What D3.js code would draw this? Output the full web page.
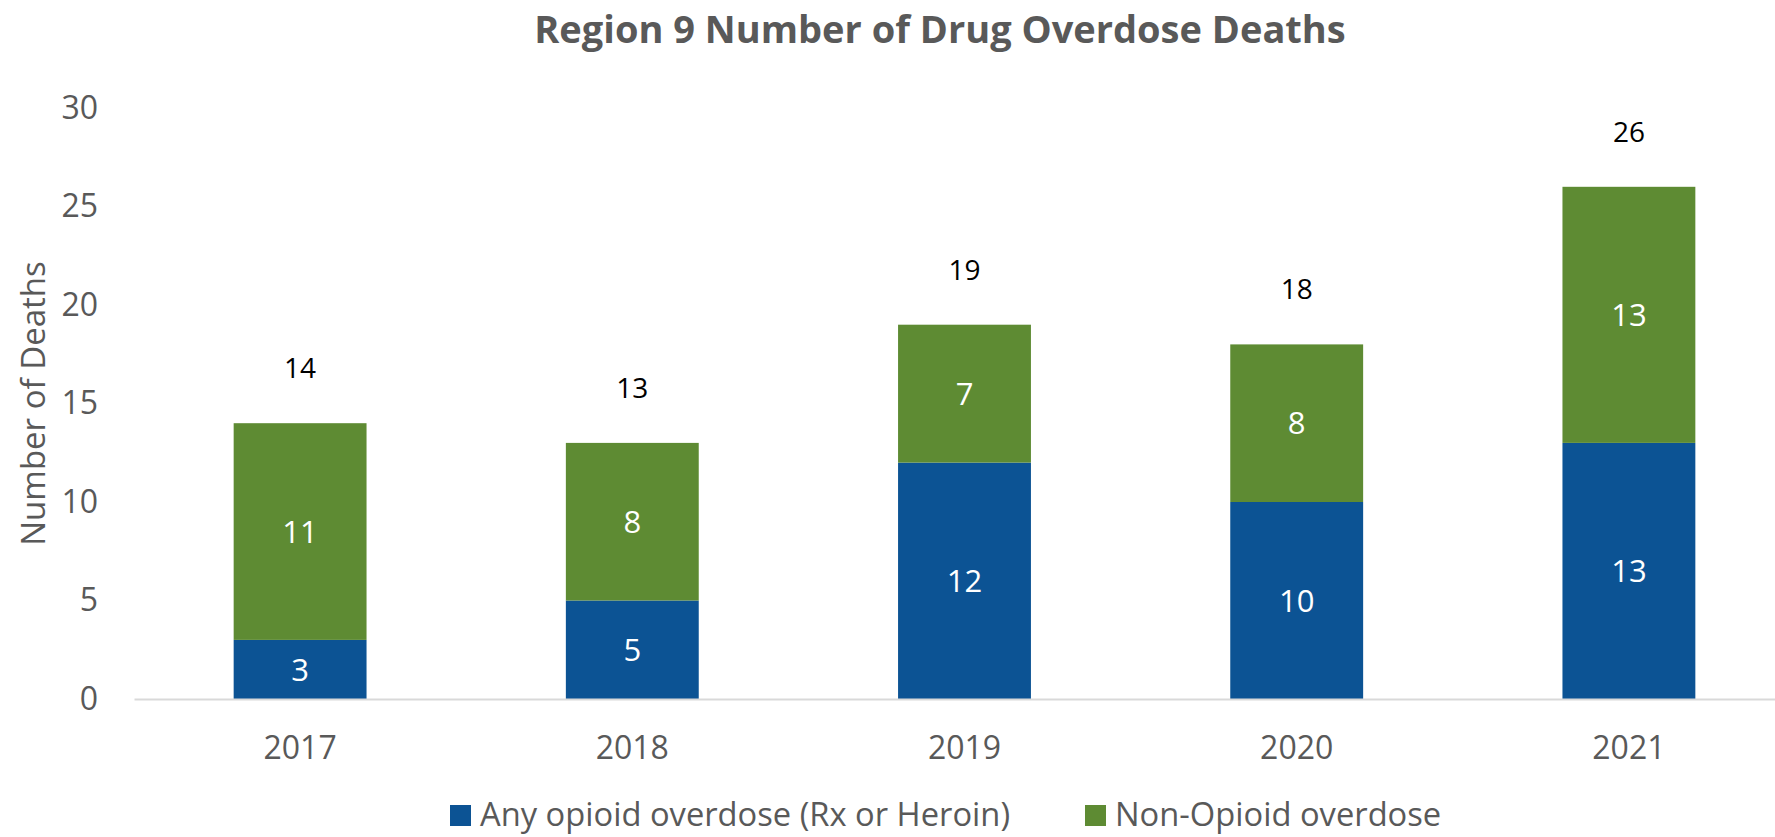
<!DOCTYPE html>
<html>
<head>
<meta charset="utf-8">
<script src="https://cdn.jsdelivr.net/npm/d3@7"></script>
<style>
  html, body { margin: 0; padding: 0; background: #ffffff; }
  svg { display: block; font-family: "Open Sans", "Noto Sans", sans-serif; }
</style>
</head>
<body>
<svg id="chart" width="1775" height="837"></svg>
<script>
// Region 9 drug overdose deaths by year
const years = ["2017", "2018", "2019", "2020", "2021"];
const opioidDeaths = [3, 5, 12, 10, 13];
const nonOpioidDeaths = [11, 8, 7, 8, 13];
const seriesNames = ["Any opioid overdose (Rx or Heroin)", "Non-Opioid overdose"];
const yTicks = [0, 5, 10, 15, 20, 25, 30];

const colors = ["#0C5394", "#5E8B33"];
const textGray = "#595959";

const svg = d3.select("#chart");
const W = 1775, H = 837;
const margin = { left: 134, right: -20, top: 108, bottom: 138 };

const rows = years.map((y, i) => ({ year: y, opioid: opioidDeaths[i], nonOpioid: nonOpioidDeaths[i] }));
const stack = d3.stack().keys(["opioid", "nonOpioid"]);
const layers = stack(rows);

const x = d3.scaleBand()
  .domain(years)
  .range([margin.left, W - margin.right])
  .paddingInner(0.6)
  .paddingOuter(0.3);

const y = d3.scaleLinear()
  .domain([0, 30])
  .range([H - margin.bottom, margin.top]);

// Title
svg.append("text")
  .attr("x", 940)
  .attr("y", 43)
  .attr("text-anchor", "middle")
  .attr("font-size", 38)
  .attr("font-weight", 700)
  .attr("fill", textGray)
  .text("Region 9 Number of Drug Overdose Deaths");

// Y axis labels (no line, no ticks)
const yAxis = d3.axisLeft(y).tickValues(yTicks).tickSize(0).tickPadding(0);
const gy = svg.append("g")
  .attr("transform", `translate(98,0)`)
  .call(yAxis);
gy.select(".domain").remove();
gy.selectAll("text")
  .attr("font-size", 32)
  .attr("fill", textGray)
  .attr("font-family", "Open Sans, sans-serif");

// Y axis title
svg.append("text")
  .attr("transform", `translate(45, ${(y(0) + y(30)) / 2}) rotate(-90)`)
  .attr("text-anchor", "middle")
  .attr("font-size", 33)
  .attr("fill", textGray)
  .text("Number of Deaths");

// Stacked bars
const g = svg.append("g");
layers.forEach((layer, li) => {
  g.selectAll(null)
    .data(layer)
    .enter()
    .append("rect")
    .attr("x", d => x(d.data.year))
    .attr("width", x.bandwidth())
    .attr("y", d => y(d[1]))
    .attr("height", d => y(d[0]) - y(d[1]))
    .attr("fill", colors[li]);

  g.selectAll(null)
    .data(layer)
    .enter()
    .append("text")
    .attr("x", d => x(d.data.year) + x.bandwidth() / 2)
    .attr("y", d => y((d[0] + d[1]) / 2))
    .attr("dy", "0.36em")
    .attr("text-anchor", "middle")
    .attr("font-size", 31)
    .attr("fill", "#ffffff")
    .text(d => d[1] - d[0]);
});

// X axis line and labels
const xAxis = d3.axisBottom(x).tickSize(0).tickPadding(0);
const gx = svg.append("g")
  .attr("transform", `translate(0, ${y(0)})`)
  .call(xAxis);
gx.select(".domain")
  .attr("stroke", "#D9D9D9")
  .attr("stroke-width", 2);
gx.selectAll("text")
  .attr("font-size", 32)
  .attr("fill", textGray)
  .attr("font-family", "Open Sans, sans-serif")
  .attr("dy", null)
  .attr("y", 60);

// Totals above each bar
const totals = years.map((yr, i) => ({ year: yr, total: opioidDeaths[i] + nonOpioidDeaths[i] }));
svg.append("g")
  .selectAll("text")
  .data(totals)
  .enter()
  .append("text")
  .attr("x", d => x(d.year) + x.bandwidth() / 2)
  .attr("y", d => y(d.total) - 45)
  .attr("text-anchor", "middle")
  .attr("font-size", 28)
  .attr("fill", "#000000")
  .text(d => d.total);

// Legend
const legendItems = [
  { name: seriesNames[0], color: colors[0], x: 450 },
  { name: seriesNames[1], color: colors[1], x: 1085 }
];
const lg = svg.append("g");
legendItems.forEach(item => {
  lg.append("rect")
    .attr("x", item.x)
    .attr("y", 805)
    .attr("width", 21)
    .attr("height", 21)
    .attr("fill", item.color);
  lg.append("text")
    .attr("x", item.x + 30)
    .attr("y", 826)
    .attr("font-size", 32.7)
    .attr("fill", textGray)
    .text(item.name);
});
</script>
</body>
</html>
